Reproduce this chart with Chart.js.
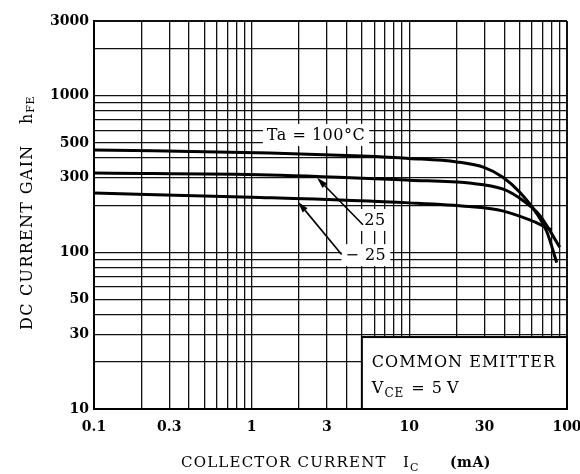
<!DOCTYPE html>
<html>
<head>
<meta charset="utf-8">
<script src="https://cdn.jsdelivr.net/npm/chart.js@4.4.1/dist/chart.umd.min.js"></script>
<style>
  html, body { margin: 0; padding: 0; background: #fff; }
  canvas { display: block; }
</style>
</head>
<body>
<canvas id="grafico" width="580" height="474"></canvas>
<script>
const ic100 = [0.1, 1.3, 5, 10, 20, 30, 39, 50, 64, 75, 86];
const hfe100 = [451, 431, 412, 398, 378, 348, 303, 243, 178, 133, 86];

const ic25 = [0.1, 1.3, 10, 24, 39, 52, 67, 90];
const hfe25 = [321, 312, 289, 277, 254, 216, 173, 108];

const icMenos25 = [0.1, 1, 10, 24, 39, 58, 80];
const hfeMenos25 = [239, 225, 207, 196, 184, 161, 139];

// Etiquetas de los ejes
const xEtiquetas = [0.1, 0.3, 1, 3, 10, 30, 100];
const yEtiquetas = [10, 30, 50, 100, 300, 500, 1000, 3000];

// Notas sobre las curvas (en coordenadas de datos)
const notas = [
  { texto: "Ta = 100°C", x: 2.56, y: 562 },
  { texto: "25", x: 6.05, y: 161 },
  { texto: "\u2212 25", x: 5.3, y: 96 },
];
const flechas = [
  { desde: [5.08, 150], hasta: [2.6, 299] },
  { desde: [3.72, 97], hasta: [1.97, 210] },
];
// Caja "COMMON EMITTER"
const cajaX = [5, 100];
const cajaY = [10, 28.8];

const FUENTE = "'DejaVu Serif', 'Liberation Serif', serif";

const puntos = (xs, ys) => xs.map((v, i) => ({ x: v, y: ys[i] }));

// Lineas de la rejilla logaritmica 1..9 por decada
function rejilla(min, max) {
  const out = [];
  for (let e = -3; e <= 5; e++) {
    for (let m = 1; m <= 9; m++) {
      const v = parseFloat((m * Math.pow(10, e)).toPrecision(3));
      if (v >= min - 1e-9 && v <= max + 1e-9) out.push(v);
    }
  }
  return out;
}

const tieneEtiqueta = (lista, v) => lista.some((l) => Math.abs(l - v) / l < 1e-6);

function texto(ctx, partes, x, y) {
  let cx = x;
  partes.forEach((p) => {
    ctx.font = p.font;
    ctx.letterSpacing = p.ls || "0px";
    ctx.fillText(p.t, cx + (p.dx || 0), y + (p.dy || 0));
    cx += (p.dx || 0) + ctx.measureText(p.t).width;
  });
}

const anotaciones = {
  id: "anotaciones",
  afterDatasetsDraw(chart) {
    const { ctx, scales: { x, y } } = chart;
    ctx.save();
    ctx.fillStyle = "#000";
    ctx.textBaseline = "middle";
    ctx.textAlign = "left";

    // etiquetas con fondo blanco
    notas.forEach((n) => {
      ctx.font = "16px " + FUENTE;
      ctx.letterSpacing = "0.5px";
      const w = ctx.measureText(n.texto).width;
      const px = x.getPixelForValue(n.x), py = y.getPixelForValue(n.y);
      ctx.fillStyle = "#fff";
      ctx.fillRect(px - w / 2 - 4, py - 11, w + 8, 22);
      ctx.fillStyle = "#000";
      ctx.fillText(n.texto, px - w / 2, py + 1);
    });

    // flechas
    flechas.forEach((f) => {
      const x0 = x.getPixelForValue(f.desde[0]), y0 = y.getPixelForValue(f.desde[1]);
      const x1 = x.getPixelForValue(f.hasta[0]), y1 = y.getPixelForValue(f.hasta[1]);
      const ang = Math.atan2(y1 - y0, x1 - x0);
      const L = 11, A = 3.2;
      ctx.strokeStyle = "#000";
      ctx.lineWidth = 1.6;
      ctx.beginPath();
      ctx.moveTo(x0, y0);
      ctx.lineTo(x1 - L * Math.cos(ang), y1 - L * Math.sin(ang));
      ctx.stroke();
      ctx.beginPath();
      ctx.moveTo(x1, y1);
      ctx.lineTo(x1 - L * Math.cos(ang) + A * Math.sin(ang), y1 - L * Math.sin(ang) - A * Math.cos(ang));
      ctx.lineTo(x1 - L * Math.cos(ang) - A * Math.sin(ang), y1 - L * Math.sin(ang) + A * Math.cos(ang));
      ctx.closePath();
      ctx.fill();
    });

    // caja de condiciones
    const bx0 = x.getPixelForValue(cajaX[0]), bx1 = x.getPixelForValue(cajaX[1]);
    const by0 = y.getPixelForValue(cajaY[1]), by1 = y.getPixelForValue(cajaY[0]);
    ctx.fillStyle = "#fff";
    ctx.fillRect(bx0, by0, bx1 - bx0, by1 - by0);
    ctx.strokeStyle = "#000";
    ctx.lineWidth = 2;
    ctx.strokeRect(bx0, by0, bx1 - bx0, by1 - by0);
    ctx.fillStyle = "#000";
    ctx.textBaseline = "alphabetic";
    texto(ctx, [{ t: "COMMON EMITTER", font: "16px " + FUENTE, ls: "1px" }], bx0 + 10, by0 + 30);
    texto(ctx, [
      { t: "V", font: "16px " + FUENTE },
      { t: "CE", font: "12px " + FUENTE, dy: 4, dx: 1, ls: "1px" },
      { t: "=", font: "16px " + FUENTE, dx: 7 },
      { t: "5", font: "16px " + FUENTE, dx: 7 },
      { t: "V", font: "16px " + FUENTE, dx: 5 },
    ], bx0 + 10, by0 + 56);
    ctx.restore();
  },
  afterDraw(chart) {
    const { ctx } = chart;
    ctx.save();
    ctx.fillStyle = "#000";
    ctx.textBaseline = "alphabetic";
    ctx.textAlign = "left";
    // titulo eje X
    texto(ctx, [{ t: "COLLECTOR CURRENT", font: "15px " + FUENTE, ls: "1.2px" }], 181, 467);
    texto(ctx, [
      { t: "I", font: "15px " + FUENTE },
      { t: "C", font: "11px " + FUENTE, dx: 1, dy: 4 },
    ], 403, 467);
    texto(ctx, [{ t: "(mA)", font: "bold 14px " + FUENTE, ls: "0.5px" }], 450, 467);
    // titulo eje Y
    ctx.translate(32, 330);
    ctx.rotate(-Math.PI / 2);
    texto(ctx, [{ t: "DC CURRENT GAIN", font: "16px " + FUENTE, ls: "1.3px" }], 0, 0);
    texto(ctx, [
      { t: "h", font: "16px " + FUENTE },
      { t: "FE", font: "11px " + FUENTE, dx: 1, dy: 2, ls: "0.5px" },
    ], 206, 0);
    ctx.restore();
  },
};

const estiloCurva = {
  borderColor: "#000",
  borderWidth: 3,
  pointRadius: 0,
  fill: false,
  cubicInterpolationMode: "monotone",
};

new Chart(document.getElementById("grafico"), {
  type: "line",
  data: {
    datasets: [
      { label: "100", data: puntos(ic100, hfe100), ...estiloCurva },
      { label: "25", data: puntos(ic25, hfe25), ...estiloCurva },
      { label: "-25", data: puntos(icMenos25, hfeMenos25), ...estiloCurva },
    ],
  },
  options: {
    responsive: false,
    animation: false,
    layout: { padding: { left: 0, right: 13, top: 21, bottom: 0 } },
    plugins: { legend: { display: false }, tooltip: { enabled: false } },
    scales: {
      x: {
        type: "logarithmic",
        min: 0.1,
        max: 100,
        afterBuildTicks: (s) => { s.ticks = rejilla(0.1, 100).map((v) => ({ value: v })); },
        afterFit: (s) => { s.height = 65; s.paddingLeft = 0; s.paddingRight = 0; },
        grid: {
          drawTicks: false,
          color: "#111",
          lineWidth: (c) => (c.tick && Math.abs(c.tick.value - 100) < 1e-6 ? 2 : 1.3),
        },
        border: { color: "#000", width: 2 },
        ticks: {
          autoSkip: false,
          maxRotation: 0,
          padding: 10,
          color: "#000",
          font: { family: FUENTE, size: 14, weight: "bold" },
          callback: (v) => (tieneEtiqueta(xEtiquetas, v) ? String(v) : ""),
        },
      },
      y: {
        type: "logarithmic",
        min: 10,
        max: 3000,
        afterBuildTicks: (s) => { s.ticks = rejilla(10, 3000).map((v) => ({ value: v })); },
        afterFit: (s) => { s.width = 94; s.paddingTop = 0; s.paddingBottom = 0; },
        grid: {
          drawTicks: false,
          color: "#111",
          lineWidth: (c) => (c.tick && Math.abs(c.tick.value - 3000) < 1e-6 ? 2 : 1.3),
        },
        border: { color: "#000", width: 2 },
        ticks: {
          autoSkip: false,
          padding: 5,
          color: "#000",
          font: { family: FUENTE, size: 14, weight: "bold" },
          callback: (v) => (tieneEtiqueta(yEtiquetas, v) ? String(v) : ""),
        },
      },
    },
  },
  plugins: [anotaciones],
});
</script>
</body>
</html>
